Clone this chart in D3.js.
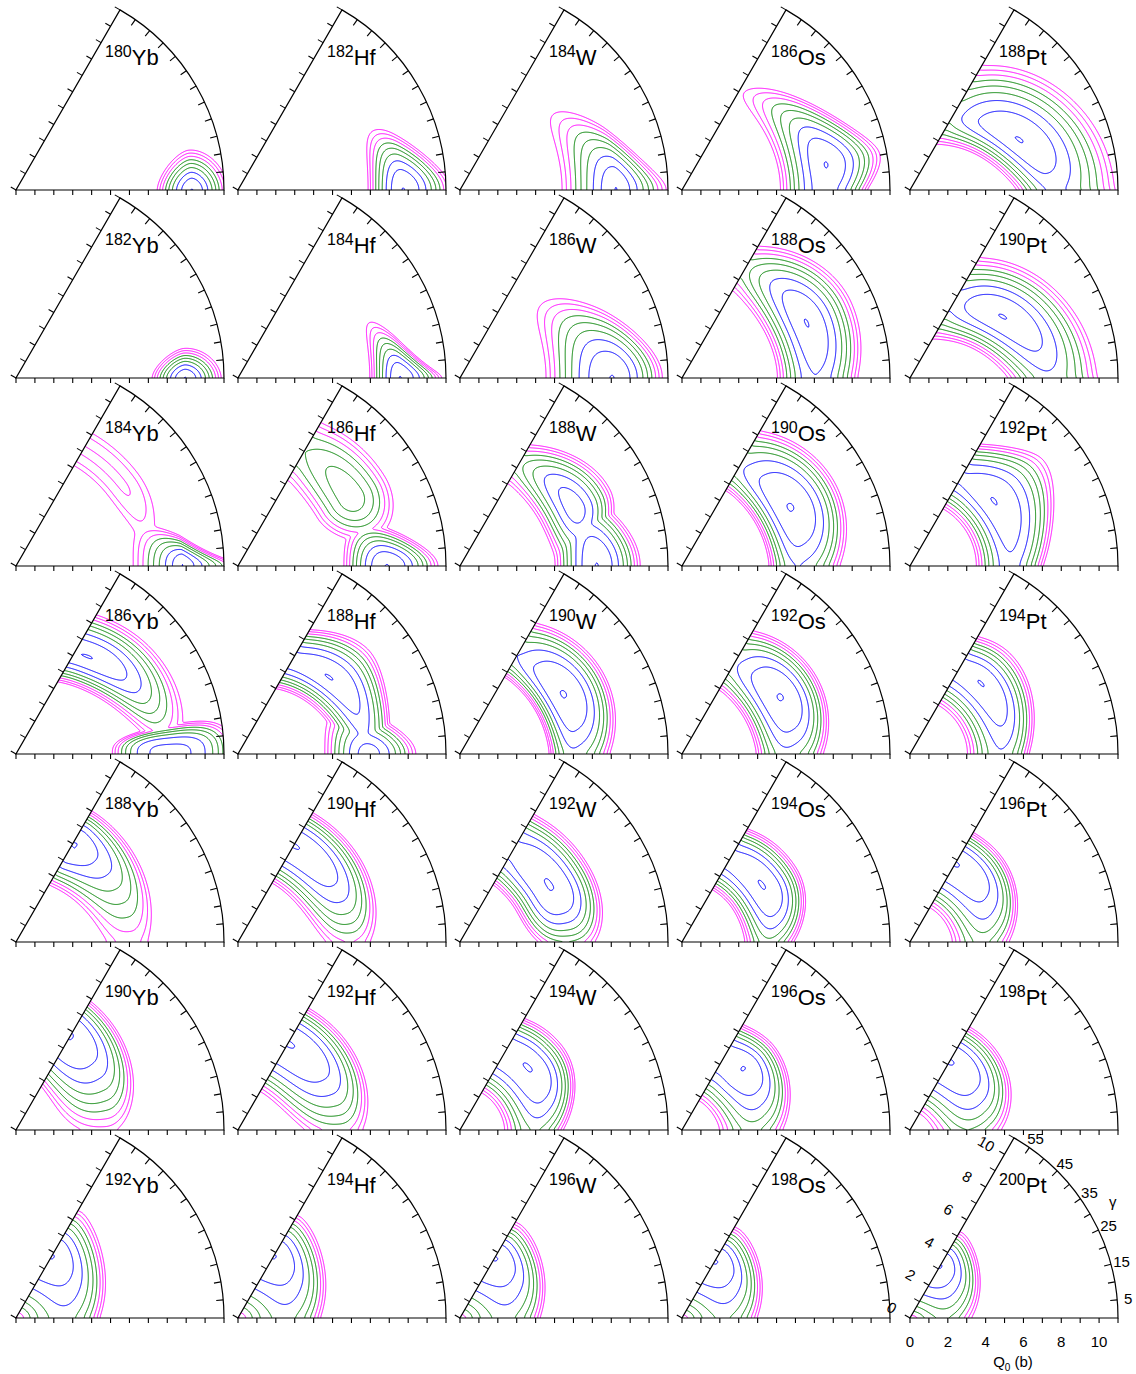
<!DOCTYPE html>
<html><head><meta charset="utf-8">
<script src="https://cdn.jsdelivr.net/npm/d3@7"></script>
<style>body{margin:0;background:#fff}svg{display:block}</style>
</head><body>
<svg id="c" width="1136" height="1374"></svg>
<script>
// ---------------- data ----------------
const elements = ["Yb", "Hf", "W", "Os", "Pt"];
const massNumbers = [
  [180, 182, 184, 186, 188],
  [182, 184, 186, 188, 190],
  [184, 186, 188, 190, 192],
  [186, 188, 190, 192, 194],
  [188, 190, 192, 194, 196],
  [190, 192, 194, 196, 198],
  [192, 194, 196, 198, 200]
];
const levels = [0.005, 0.5, 1, 1.5, 2, 2.5, 3, 3.5, 4];
const levelColors = ["#0000ff","#0000ff","#0000ff","#008000","#008000","#008000","#ff00ff","#ff00ff","#ff00ff"];
const qTickLabels = [0, 2, 4, 6, 8, 10];
const betaTickLabels = [0, 2, 4, 6, 8, 10];
const gammaTickLabels = [5, 15, 25, 35, 45, 55];
// energy valleys:
// [Q0 of minimum (b), gamma of minimum (deg), reach toward smaller Q0, reach toward larger Q0,
//  reach toward smaller gamma (deg), reach toward larger gamma (deg), shear (b per 10 deg),
//  skew, radial exponent, gamma exponent, depth]
const wells180Yb = [[9.3,0,1.83,1.9,13,13,0,0,1.7,1.7,0]];
const wells182Hf = [[8.73,0,1.85,2.5,20,20,0,0.35,1.9,2,0]];
const wells184W  = [[8.25,0,2.85,2.65,24,24,0,0.45,1.6,2,0]];
const wells186Os = [[7.73,10,2.5,2.9,36,30,0,0.45,2,2,0]];
const wells188Pt = [[6.35,24.6,2.2,3.7,50,60,-0.5,0,2,2,0]];
const wells182Yb = [[8.95,0,1.75,1.9,10,10,0,0,1.7,1.7,0]];
const wells184Hf = [[8.57,0,1.6,2.2,15,15,0,0.7,1.8,2,0]];
const wells186W  = [[8.05,0,3.5,2.65,28,28,0,0.3,2,2,0]];
const wells188Os = [[7.2,24,2.2,2.6,60,45,0,0.2,2,2,0]];
const wells190Pt = [[5.87,33.6,2.6,3.0,61,56,-0.45,0,2,2,0]];
const wells184Yb = [[8.8,0,2.6,3.0,10.6,10.6,0,0.5,1.3,2.2,0],[7.06,37.4,1.8,2.0,45,150,0,0,2,2,2.85]];
const wells186Hf = [[7.87,0,2.27,2.7,15.5,15.5,0,0.3,2,2,0],[7.0,31.4,2.5,2.5,24,60,0,0,2,2,1.1]];
const wells188W  = [[7.23,0,2.2,2.3,35,35,0,0.3,2,2,0],[6.77,27,2.0,2.2,28,43,0,0.3,2,2,0.15]];
const wells190Os = [[6.5,28.4,2.0,2.7,52,55,0,0.2,2.5,2,0]];
const wells192Pt = [[5.6,38,2.1,3.4,80,60,0,0.45,2,2,0]];
const wells186Yb = [[6.44,52,1.8,2.3,50,50,-0.3,0,2,2,0],[8.1,0,3.1,3.5,11,11,0,0,3,3,0.45]];
const wells188Hf = [[6.3,40,1.8,2.5,58,70,-0.25,0.5,2,2,0],[6.9,0,2.4,2.6,20,20,0,0.3,2,2,0.4]];
const wells190W  = [[6.3,30,1.7,2.4,52,55,0,0.2,2.5,2,0]];
const wells192Os = [[6.0,30,2.2,2.2,50,52,0,0.2,2.5,2,0]];
const wells194Pt = [[5.3,45,2.3,2.2,75,60,0,0.4,2,2,0]];
const wells188Yb = [[6.0,58,2.5,2.0,67,67,0,0,2.4,1.25,0]];
const wells190Hf = [[5.9,56,2.3,2.0,63,63,0,0,2.3,2.5,0]];
const wells192W  = [[5.6,32,2.2,2.3,38,65,0,0,2.5,2.5,0]];
const wells194Os = [[5.2,35,2.0,2.0,45,70,0,0.3,2.3,2.3,0]];
const wells196Pt = [[4.8,55,2.7,1.9,64,64,0,0.3,2.3,2.3,0]];
const wells190Yb = [[5.75,59,3.1,2.1,62,62,0.2,0,2.5,1.75,0]];
const wells192Hf = [[5.3,58,2.95,2.15,67,67,0,0,2.4,2.5,0]];
const wells194W  = [[4.9,42,2.6,2.1,52,70,0,0.35,2.3,2.3,0]];
const wells196Os = [[4.6,45,2.8,2.0,59,70,0,0.3,2.3,1.7,0]];
const wells198Pt = [[4.2,58,3.2,2.1,68,68,0,0.2,2.3,2.3,0]];
const wells192Yb = [[3.8,58,4.0,2.8,83,83,0,0.5,2,1.5,0]];
const wells194Hf = [[3.8,58,4.0,2.5,80,80,0,0.5,2,1.5,0]];
const wells196W  = [[3.7,57,4.0,2.2,78,78,0,0.5,2,1.5,0]];
const wells198Os = [[3.5,57,3.8,2.1,75,75,0,0.5,2,1.5,0]];
const wells200Pt = [[3.2,58,3.5,2.1,60,60,0,0.5,2,1.5,0]];

const panelWells = [
  [wells180Yb, wells182Hf, wells184W, wells186Os, wells188Pt],
  [wells182Yb, wells184Hf, wells186W, wells188Os, wells190Pt],
  [wells184Yb, wells186Hf, wells188W, wells190Os, wells192Pt],
  [wells186Yb, wells188Hf, wells190W, wells192Os, wells194Pt],
  [wells188Yb, wells190Hf, wells192W, wells194Os, wells196Pt],
  [wells190Yb, wells192Hf, wells194W, wells196Os, wells198Pt],
  [wells192Yb, wells194Hf, wells196W, wells198Os, wells200Pt]
];

// ---------------- layout ----------------
const colX = [16, 238, 460, 682, 910];
const rowY = [190, 378, 566, 754, 942, 1130, 1318];
const QMAX = 11, R = 208;
const qScale = d3.scaleLinear().domain([0, QMAX]).range([0, R]);
const gScale = d3.scaleLinear().domain([0, 60]).range([0, Math.PI / 3]);
const pxPerQ = qScale(1);
const FONT = "'Liberation Sans', Arial, Helvetica, sans-serif";
const T = 0.15;
const S60 = Math.sin(Math.PI / 3), C60 = 0.5;

const svg = d3.select("#c");
svg.append("rect").attr("width", 1136).attr("height", 1374).attr("fill", "#fff");
const defs = svg.append("defs");

function prep(w) {
  const [q, g, aIn, aOut, gDn, gUp, shear, skew, pa, pb, d] = w;
  return {q, g, aIn, aOut, gDn, gUp, sh: shear / 10, skew, pa, pb, d};
}
function wellE(w, Q, Gw, G) {
  const dg = G - w.g;
  const a = Q - w.q - w.sh * (Gw - w.g);
  const sA = a < 0 ? w.aIn : w.aOut;
  let sB = dg < 0 ? w.gDn : w.gUp;
  if (w.skew) sB *= Math.exp(-w.skew * a);
  return w.d + 4 * (Math.pow(Math.abs(a) / sA, w.pa) + Math.pow(Math.abs(dg) / sB, w.pb));
}
function energy(ws, Q, G) {
  const Gw = G < 0 ? Math.min(-G, 60) : (G > 60 ? Math.max(120 - G, 0) : G);
  const imgs = [G, -G, 120 - G];
  let m = Infinity;
  const vals = [];
  for (const w of ws) for (const gi of imgs) { const v = wellE(w, Q, Gw, gi); vals.push(v); if (v < m) m = v; }
  let s = 0;
  for (const v of vals) s += Math.exp(-(v - m) / T);
  return m - T * Math.log(s);
}

const GX0 = -6, GY0 = -216, GW = 226, GH = 226;
const contourGen = d3.contours().size([GW, GH]).thresholds(levels);
const pathGen = d3.geoPath();

function wedgePath(cx, cy) {
  const ex = cx + R * Math.cos(Math.PI / 3), ey = cy - R * Math.sin(Math.PI / 3);
  return `M${cx},${cy}L${cx + R},${cy}A${R},${R} 0 0 0 ${ex},${ey}Z`;
}

panelWells.forEach((row, ri) => {
  row.forEach((raw, ci) => {
    const cx = colX[ci], cy = rowY[ri];
    const ws = raw.map(prep);
    const vals = new Float64Array(GW * GH);
    let minIn = Infinity;
    for (let j = 0; j < GH; j++) {
      for (let i = 0; i < GW; i++) {
        const x = (GX0 + i + 0.5) / pxPerQ, y = -(GY0 + j + 0.5) / pxPerQ;
        const Q = Math.hypot(x, y), G = Math.atan2(y, x) * 180 / Math.PI;
        const e = energy(ws, Q, G);
        vals[j * GW + i] = e;
        if (Q <= QMAX && G >= 0 && G <= 60 && e < minIn) minIn = e;
      }
    }
    for (let n = 0; n < vals.length; n++) vals[n] -= minIn;
    const cs = contourGen(vals);
    const id = `clip${ri}_${ci}`;
    defs.append("clipPath").attr("id", id).append("path").attr("d", wedgePath(cx, cy));
    const outer = svg.append("g").attr("clip-path", `url(#${id})`);
    const g = outer.append("g").attr("transform", `translate(${cx + GX0},${cy + GY0})`);
    g.selectAll("path").data(cs).join("path")
      .attr("d", pathGen)
      .attr("fill", "none")
      .attr("stroke", (d, k) => levelColors[k])
      .attr("stroke-width", 1)
      .attr("stroke-linejoin", "round");

    const ax = svg.append("g").attr("stroke", "#000").attr("fill", "none");
    ax.append("path").attr("d", wedgePath(cx, cy)).attr("stroke-width", 1.2);
    const qt = d3.range(0, QMAX + 1);
    ax.selectAll(".bt").data(qt).join("line")
      .attr("x1", q => cx + qScale(q)).attr("x2", q => cx + qScale(q))
      .attr("y1", cy).attr("y2", cy + 5).attr("stroke-width", 1.1);
    ax.selectAll(".lt").data(qt).join("line")
      .attr("x1", q => cx + qScale(q) * C60).attr("y1", q => cy - qScale(q) * S60)
      .attr("x2", q => cx + qScale(q) * C60 - 6 * S60).attr("y2", q => cy - qScale(q) * S60 - 6 * C60)
      .attr("stroke-width", 1.1);
    const gt = d3.range(5, 60, 5);
    ax.selectAll(".at").data(gt).join("line")
      .attr("x1", g => cx + R * Math.cos(gScale(g))).attr("y1", g => cy - R * Math.sin(gScale(g)))
      .attr("x2", g => cx + (R - 7) * Math.cos(gScale(g))).attr("y2", g => cy - (R - 7) * Math.sin(gScale(g)))
      .attr("stroke-width", 1.1);

    const t = svg.append("text").attr("x", cx + 89).attr("y", cy - 125)
      .attr("font-family", FONT).attr("fill", "#000");
    t.append("tspan").attr("font-size", 16).attr("dy", -8).text(massNumbers[ri][ci]);
    t.append("tspan").attr("font-size", 22).attr("dy", 8).text(elements[ci]);
  });
});

(function () {
  const cx = colX[4], cy = rowY[6];
  const lab = svg.append("g").attr("font-family", FONT).attr("font-size", 15).attr("fill", "#000");
  lab.selectAll(".xq").data(qTickLabels).join("text")
    .attr("x", q => cx + qScale(q)).attr("y", cy + 29).attr("text-anchor", "middle").text(q => q);
  const ql = lab.append("text").attr("x", cx + 103).attr("y", cy + 49).attr("text-anchor", "middle");
  ql.append("tspan").text("Q");
  ql.append("tspan").attr("font-size", 10).attr("dy", 4).text("0");
  ql.append("tspan").attr("dy", -4).text(" (b)");
  lab.selectAll(".bq").data(betaTickLabels).join("text")
    .attr("transform", q => {
      const x = cx + qScale(q) * C60 - 21 * S60, y = cy - qScale(q) * S60 - 21 * C60;
      return `translate(${x},${y}) rotate(30)`;
    })
    .attr("text-anchor", "middle").attr("dominant-baseline", "central").text(q => q);
  lab.selectAll(".gq").data(gammaTickLabels).join("text")
    .attr("x", g => cx + 219 * Math.cos(gScale(g))).attr("y", g => cy - 219 * Math.sin(gScale(g)))
    .attr("text-anchor", "middle").attr("dominant-baseline", "central").text(g => g);
  lab.append("text").attr("x", cx + 234 * Math.cos(gScale(30))).attr("y", cy - 234 * Math.sin(gScale(30)))
    .attr("text-anchor", "middle").attr("dominant-baseline", "central").text("γ");
})();
</script>
</body></html>
